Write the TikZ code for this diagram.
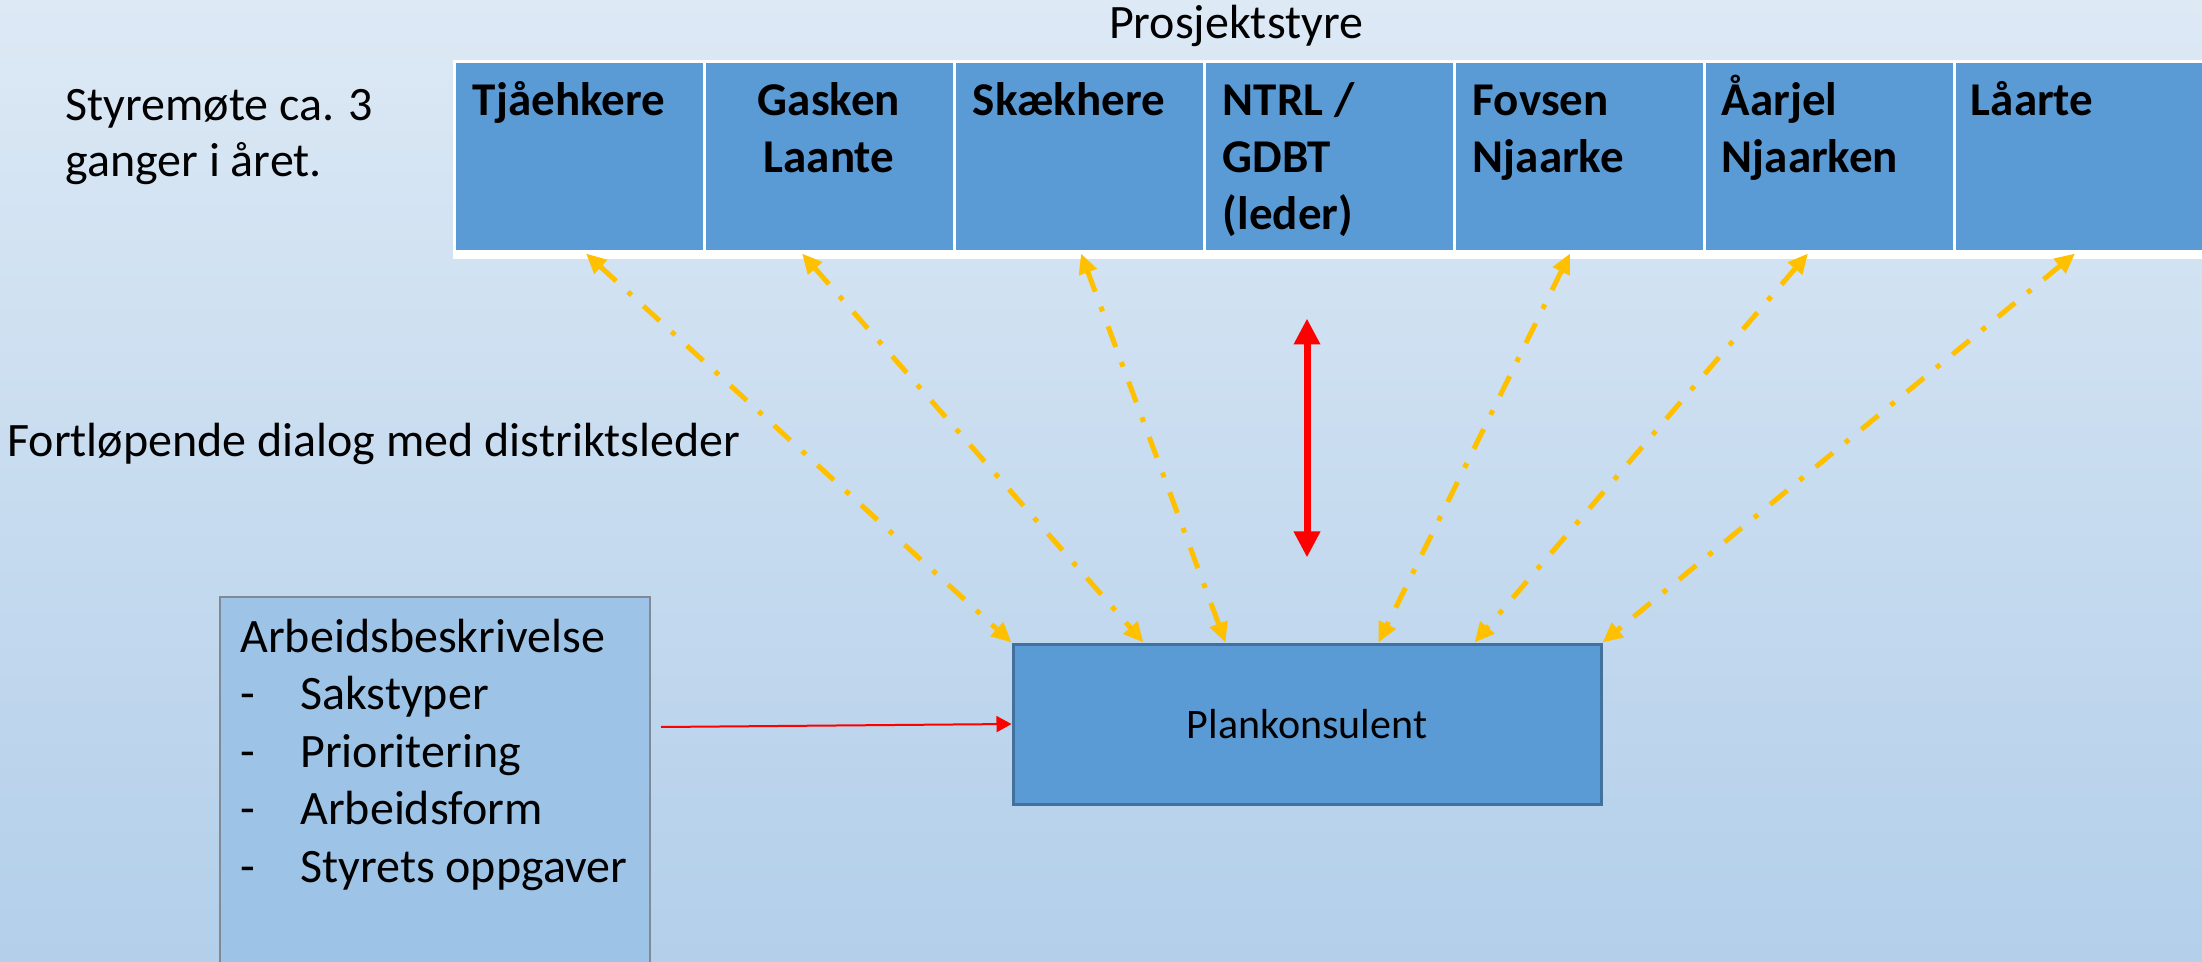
\documentclass[tikz,border=0pt]{standalone}
\usepackage{fontspec}
\setmainfont{Carlito}
\usetikzlibrary{positioning,arrows.meta,calc}
\definecolor{bgtop}{HTML}{DDE9F5}
\definecolor{bgbottom}{HTML}{B3CFEA}
\definecolor{cellblue}{HTML}{5B9BD5}
\definecolor{planedge}{HTML}{41719C}
\definecolor{workfill}{HTML}{9DC3E6}
\definecolor{workedge}{HTML}{7F8A96}
\definecolor{linkorange}{HTML}{FFC000}
\begin{document}
\begin{tikzpicture}[x=0.5pt, y=-0.5pt, node distance=125pt]
      % Styles
      \tikzstyle{cell} = [rectangle, draw=white, line width=1.5pt, fill=cellblue,
                          minimum width=125pt, minimum height=95pt, inner sep=0pt]
      \tikzstyle{celltext} = [font=\fontsize{23.5}{28.5}\selectfont\bfseries, align=left,
                              inner sep=0pt, anchor=base west]
      \tikzstyle{plain} = [font=\fontsize{24}{28.75}\selectfont, align=left,
                           inner sep=0pt, anchor=base west]
      \tikzstyle{planbox} = [rectangle, draw=planedge, line width=1.5pt, fill=cellblue,
                             minimum width=294pt, minimum height=80pt,
                             font=\fontsize{21}{25}\selectfont]
      \tikzstyle{workbox} = [rectangle, draw=workedge, line width=1pt, fill=workfill,
                             minimum width=215pt, minimum height=200pt, anchor=north west]
      \tikzstyle{link} = [draw=linkorange, line width=2.5pt,
                          dash pattern=on 11pt off 8pt on 2.5pt off 8pt,
                          arrows={Triangle[length=10pt,width=9pt]-Triangle[length=10pt,width=9pt]}]
      \tikzstyle{redlink} = [draw=red, line width=3.5pt,
                             arrows={Triangle[length=13pt,width=12.5pt]-Triangle[length=13pt,width=12.5pt]}]
      \tikzstyle{redthin} = [draw=red, line width=1pt,
                             arrows={-Triangle[length=7.5pt,width=8pt]}]

      % Background
      \shade[top color=bgtop, bottom color=bgbottom] (0,0) rectangle (2202,962);
      \useasboundingbox (0,0) rectangle (2202,962);

      % Nodes (base of a text node = baseline of its last line)
      \node[cell] (tjaehkere) at (579,157) {};
      \node[cell, right of=tjaehkere] (gasken) {};
      \node[cell, right of=gasken] (skaekhere) {};
      \node[cell, right of=skaekhere] (ntrl) {};
      \node[cell, right of=ntrl] (fovsen) {};
      \node[cell, right of=fovsen] (aarjel) {};
      \node[cell, right of=aarjel] (laarte) {};
      \draw[white, line width=3.5pt] ($(tjaehkere.south west)+(0,2.5)$) -- ($(laarte.south east)+(0,2.5)$);

      \node[celltext] (tjaehkeretxt) at ($(tjaehkere.north west)+(20,55)$) {Tjåehkere};
      \node[celltext, anchor=base, align=center] (gaskentxt) at ($(gasken.north)+(0,112)$) {Gasken\\Laante};
      \node[celltext] (skaekheretxt) at ($(skaekhere.north west)+(20,55)$) {Skækhere};
      \node[celltext] (ntrltxt) at ($(ntrl.north west)+(20,169)$) {NTRL /\\GDBT\\(leder)};
      \node[celltext] (fovsentxt) at ($(fovsen.north west)+(20,112)$) {Fovsen\\Njaarke};
      \node[celltext] (aarjeltxt) at ($(aarjel.north west)+(19,112)$) {Åarjel\\Njaarken};
      \node[celltext] (laartetxt) at ($(laarte.north west)+(18,55)$) {Låarte};

      \node[plain, anchor=base] (styre) at (1236,39) {Prosjektstyre};
      \node[plain, font=\fontsize{24}{28}\selectfont] (mote) at (65,177) {Styremøte ca. 3\\ganger i året.};
      \node[plain] (dialog) at (7,457) {Fortløpende dialog med distriktsleder};

      \node[planbox] (plan) at (1307,724) {Plankonsulent};
      \node[workbox] (arb) at (219,596) {};
      \node[plain] (arbtext) at ($(arb.north west)+(21,286)$)
           {Arbeidsbeskrivelse\\\makebox[30pt][l]{-}Sakstyper\\\makebox[30pt][l]{-}Prioritering\\
            \makebox[30pt][l]{-}Arbeidsform\\\makebox[30pt][l]{-}Styrets oppgaver};

      \coordinate (arbout) at ($(arb.north east)+(10,131)$);
      \coordinate (redtop) at ($(plan.north)+(0,-324)$);
      \coordinate (redbot) at ($(plan.north)+(0,-85)$);

      % Arrows
      \draw[link] ($(tjaehkere.south)+(7,0)$) -- (plan.north west);
      \draw[link] ($(gasken.south)+(-27,0)$) -- ($(plan.north west)+(132,0)$);
      \draw[link] ($(skaekhere.south)+(2,0)$) -- ($(plan.north west)+(214,0)$);
      \draw[link] ($(fovsen.south)+(-9,0)$) -- ($(plan.north west)+(367,0)$);
      \draw[link] ($(aarjel.south)+(-21,0)$) -- ($(plan.north west)+(463,0)$);
      \draw[link] ($(laarte.south)+(-4,0)$) -- (plan.north east);
      \draw[redlink] (redtop) -- (redbot);
      \draw[redthin] (arbout) -- (plan.west);
  \end{tikzpicture}
\end{document}
